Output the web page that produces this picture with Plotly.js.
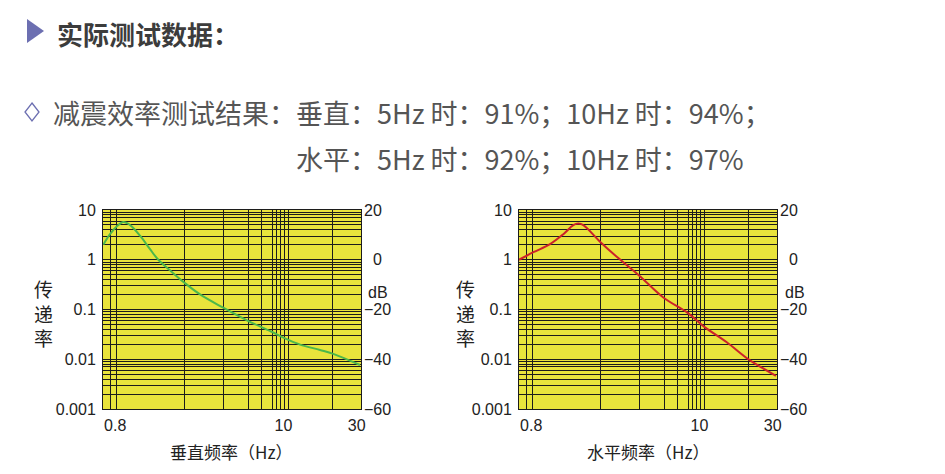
<!DOCTYPE html>
<html>
<head>
<meta charset="utf-8">
<script src="https://cdn.plot.ly/plotly-3.0.1.min.js"></script>
<style>html,body{margin:0;padding:0;background:#fff;}#chart{width:945px;height:474px;}</style>
</head>
<body>
<div id="chart"></div>
<script>
// ---- data ----
// vertical (垂直) transmissibility curve
const freqV  = [0.669, 0.740, 0.818, 0.904, 1.0, 1.161, 1.349, 1.528, 1.821, 2.247, 2.858, 4.018, 5.90, 8.29, 10.23, 12.83, 17.3, 21.1, 31.5];
const transV = [2.01, 3.27, 4.64, 5.73, 4.97, 3.05, 1.63, 1.0, 0.613, 0.351, 0.201, 0.110, 0.0585, 0.0361, 0.0262, 0.0197, 0.01535, 0.01285, 0.00767];
// horizontal (水平) transmissibility curve
const freqH  = [0.666, 0.826, 1.061, 1.296, 1.505, 1.623, 1.749, 2.247, 2.888, 4.036, 5.81, 8.46, 10.76, 15.06, 21.0, 31.5];
const transH = [1.0, 1.416, 2.06, 3.27, 4.97, 5.34, 4.97, 2.31, 1.148, 0.485, 0.1746, 0.0838, 0.0448, 0.0220, 0.00985, 0.00465];
// axis labels
const xTickVals = [0.8, 10, 30];
const xTickText = ['0.8', '10', '30'];
const yTickVals = [10, 1, 0.1, 0.01, 0.001];
const yTickText = ['10', '1', '0.1', '0.01', '0.001'];
const dbTickVals = [20, 0, -20, -40, -60];
const dbTickText = ['20', '\u00a0\u00a00', '−20', '−40', '−60'];
// vertical grid lines as drawn on the chart paper
const xGridVals = [0.748, 0.814, 2.27, 4.04, 5.94, 7.17, 8.42, 8.98, 9.60, 10.08, 10.82, 21.0];
// horizontal log grid: 1..9 within each decade
const yDecades = [0.001, 0.01, 0.1, 1];
const yDigits = [2, 3, 4, 5, 6, 7, 8, 9];

const yMinor = [];
yDecades.forEach(d => yDigits.forEach(k => yMinor.push(+(d * k).toPrecision(3))));

const W = 945, H = 474;
const px = v => v / W, py = v => (H - v) / H;

const yellow = '#e9e43c';
const gridC = '#1c1c1c';
const tickFont = {family: 'Liberation Sans, Arial, sans-serif', size: 16, color: '#222'};
const cjk = 'Noto Sans CJK SC, sans-serif';

function xAxis(domain, anchor) {
  return {
    type: 'log', domain: domain, anchor: anchor,
    range: [Math.log10(0.666), Math.log10(32)],
    tickmode: 'array', tickvals: xTickVals, ticktext: xTickText,
    showgrid: false, zeroline: false, ticks: '',
    tickfont: tickFont, ticklabelstandoff: 2,
    showline: true, mirror: true, linecolor: gridC, linewidth: 1,
    minor: {tickmode: 'array', tickvals: xGridVals, showgrid: true, gridcolor: gridC, gridwidth: 1, ticks: ''}
  };
}
function yAxis(anchor) {
  return {
    type: 'log', domain: [py(409), py(210)], anchor: anchor,
    range: [-3, 1],
    tickmode: 'array', tickvals: yTickVals, ticktext: yTickText,
    showgrid: true, gridcolor: gridC, gridwidth: 1, zeroline: false, ticks: '',
    tickfont: tickFont, ticklabelstandoff: 3,
    showline: true, mirror: true, linecolor: gridC, linewidth: 1,
    minor: {tickmode: 'array', tickvals: yMinor, showgrid: true, gridcolor: gridC, gridwidth: 1, ticks: ''}
  };
}
function dbAxis(overlay, anchor) {
  return {
    overlaying: overlay, anchor: anchor, side: 'right',
    range: [-60, 20], tickmode: 'array', tickvals: dbTickVals, ticktext: dbTickText,
    showgrid: false, zeroline: false, ticks: '', showline: false,
    tickfont: tickFont, ticklabelstandoff: 2
  };
}

const traces = [
  {x: freqV, y: transV, xaxis: 'x', yaxis: 'y', type: 'scatter', mode: 'lines',
   line: {color: '#4db84a', width: 2, shape: 'spline'}, hoverinfo: 'skip'},
  {x: [], y: [], xaxis: 'x', yaxis: 'y2', type: 'scatter', mode: 'lines', hoverinfo: 'skip'},
  {x: freqH, y: transH, xaxis: 'x2', yaxis: 'y3', type: 'scatter', mode: 'lines',
   line: {color: '#cc2229', width: 2, shape: 'spline'}, hoverinfo: 'skip'},
  {x: [], y: [], xaxis: 'x2', yaxis: 'y4', type: 'scatter', mode: 'lines', hoverinfo: 'skip'}
];

const purple = '#6c6fb1';
const annotations = [
  {text: '<b>实际测试数据：</b>', x: px(55), y: py(33), xanchor: 'left', yanchor: 'middle',
   font: {family: cjk, size: 26, color: '#3c3c3c'}},
  {text: '减震效率测试结果：', x: px(51), y: py(112), xanchor: 'left', yanchor: 'middle',
   font: {family: cjk, size: 27, color: '#555'}},
  {text: '垂直：5Hz 时：91%；10Hz 时：94%；', x: px(294), y: py(112), xanchor: 'left', yanchor: 'middle',
   font: {family: cjk, size: 27, color: '#555'}},
  {text: '水平：5Hz 时：92%；10Hz 时：97%', x: px(294), y: py(158), xanchor: 'left', yanchor: 'middle',
   font: {family: cjk, size: 27, color: '#555'}},
  // axis titles
  {text: '传<br>递<br>率', x: px(43), y: py(313), xanchor: 'center', yanchor: 'middle',
   font: {family: cjk, size: 19, color: '#222'}},
  {text: '传<br>递<br>率', x: px(465), y: py(313), xanchor: 'center', yanchor: 'middle',
   font: {family: cjk, size: 19, color: '#222'}},
  {text: '垂直频率（Hz）', x: px(231), y: py(451), xanchor: 'center', yanchor: 'middle',
   font: {family: cjk, size: 17, color: '#222'}},
  {text: '水平频率（Hz）', x: px(648), y: py(451), xanchor: 'center', yanchor: 'middle',
   font: {family: cjk, size: 17, color: '#222'}},
  {text: 'dB', x: px(378), y: py(292), xanchor: 'center', yanchor: 'middle', font: tickFont},
  {text: 'dB', x: px(795), y: py(292), xanchor: 'center', yanchor: 'middle', font: tickFont}
];
annotations.forEach(a => { a.xref = 'paper'; a.yref = 'paper'; a.showarrow = false; });

const shapes = [
  {type: 'path', xref: 'paper', yref: 'paper',
   path: `M ${px(27)},${py(19)} L ${px(44)},${py(31)} L ${px(27)},${py(43)} Z`,
   fillcolor: purple, line: {width: 0}},
  {type: 'path', xref: 'paper', yref: 'paper',
   path: `M ${px(32)},${py(103)} L ${px(39)},${py(112)} L ${px(32)},${py(121)} L ${px(25)},${py(112)} Z`,
   fillcolor: 'rgba(0,0,0,0)', line: {color: purple, width: 1.3}}
];

const layout = {
  width: W, height: H, autosize: false,
  margin: {l: 0, r: 0, t: 0, b: 0, pad: 0},
  paper_bgcolor: '#ffffff', plot_bgcolor: yellow,
  showlegend: false,
  xaxis: xAxis([px(103), px(361)], 'y'),
  yaxis: yAxis('x'),
  yaxis2: dbAxis('y', 'x'),
  xaxis2: xAxis([px(519), px(777)], 'y3'),
  yaxis3: yAxis('x2'),
  yaxis4: dbAxis('y3', 'x2'),
  annotations: annotations,
  shapes: shapes
};

Plotly.newPlot('chart', traces, layout, {displayModeBar: false, staticPlot: true});
</script>
</body>
</html>
